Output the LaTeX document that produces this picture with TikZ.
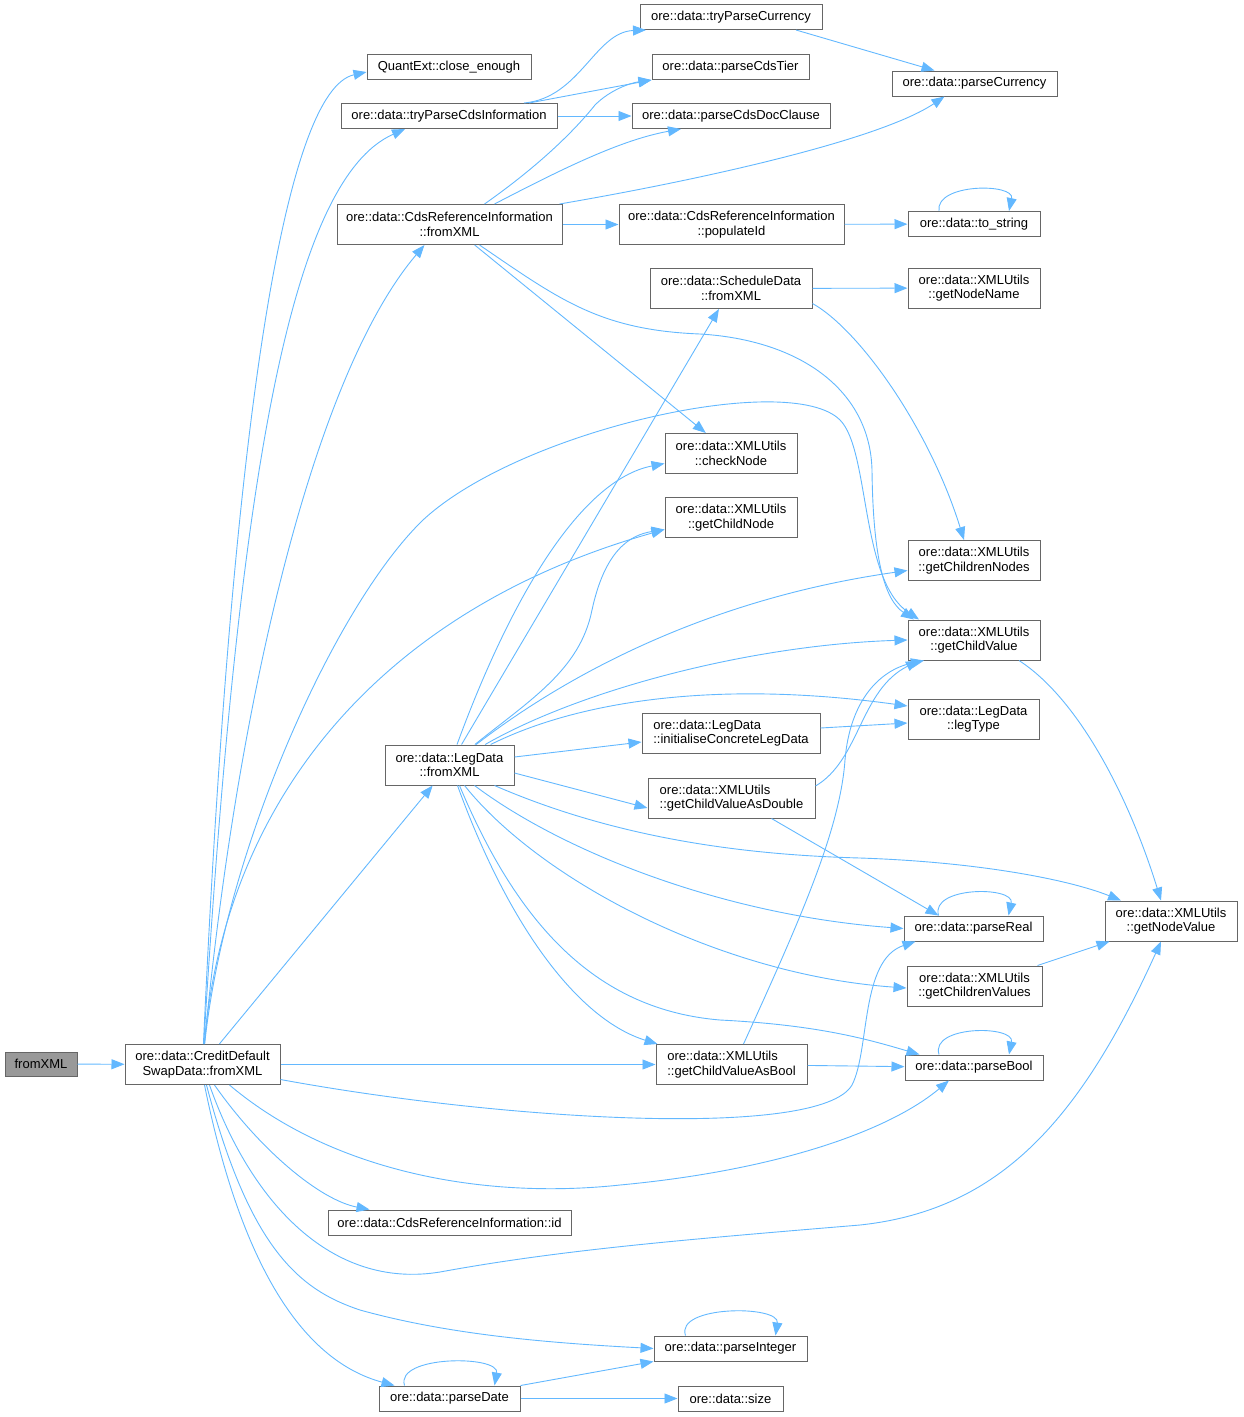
\documentclass[tikz,border=0pt]{standalone}
\usepackage{fontspec}
\setmainfont{Liberation Sans}
\usetikzlibrary{shapes,arrows,arrows.meta,positioning,calc}
\definecolor{edgeblue}{HTML}{63B8FF}
\definecolor{boxgray}{HTML}{666666}
\definecolor{rootgray}{HTML}{999999}
\newcommand{\fnfont}{\fontsize{13}{14.5}\selectfont}
\tikzstyle{fn} = [draw=boxgray, rectangle, line width=1pt, inner sep=0pt, minimum height=25pt, font=\fnfont, align=center]
\tikzstyle{fntwo} = [fn, minimum height=40pt]
\tikzstyle{call} = [draw=edgeblue, line width=0.9pt, -{Triangle[length=13pt,width=10pt]}]

\begin{document}
\begin{tikzpicture}[x=1pt, y=-1pt]
      \useasboundingbox (0,0) rectangle (1243,1417);
      \node[fn, fill=rootgray, minimum width=72pt, minimum height=24pt] (root) at (41,1064) {fromXML};
      \node[fntwo, minimum width=155pt] (cds) at (202.5,1064.5) {ore::data::CreditDefault\\SwapData::fromXML};
      \node[fn, minimum width=164pt] (close) at (449,67) {QuantExt::close\_enough};
      \node[fn, minimum width=216pt] (tpci) at (449,116) {ore::data::tryParseCdsInformation};
      \node[fntwo, minimum width=225pt] (cdsref) at (449.5,224.5) {ore::data::CdsReferenceInformation\\::fromXML};
      \node[fntwo, minimum width=129pt] (leg) at (449.5,765) {ore::data::LegData\\::fromXML};
      \node[fn, minimum width=243pt] (cdsid) at (449.5,1222.5) {ore::data::CdsReferenceInformation::id};
      \node[fn, minimum width=141pt] (pdate) at (449.5,1398.5) {ore::data::parseDate};
      \node[fn, minimum width=182pt] (tpcur) at (731,17) {ore::data::tryParseCurrency};
      \node[fn, minimum width=157pt] (tier) at (730.5,67) {ore::data::parseCdsTier};
      \node[fn, minimum width=198pt] (doc) at (731,116) {ore::data::parseCdsDocClause};
      \node[fntwo, minimum width=225pt] (popid) at (731.5,224.5) {ore::data::CdsReferenceInformation\\::populateId};
      \node[fntwo, minimum width=162pt] (sched) at (731,288.5) {ore::data::ScheduleData\\::fromXML};
      \node[fntwo, minimum width=132pt] (check) at (731,453.5) {ore::data::XMLUtils\\::checkNode};
      \node[fntwo, minimum width=132pt] (gcn) at (731,517.5) {ore::data::XMLUtils\\::getChildNode};
      \node[fntwo, minimum width=178pt, align=left] (icld) at (731,733) {ore::data::LegData\\::initialiseConcreteLegData};
      \node[fntwo, minimum width=167pt, align=left] (gcvd) at (731.5,798) {ore::data::XMLUtils\\::getChildValueAsDouble};
      \node[fntwo, minimum width=151pt, align=left] (gcvb) at (731.5,1064.5) {ore::data::XMLUtils\\::getChildValueAsBool};
      \node[fn, minimum width=153pt] (pint) at (730.5,1348.5) {ore::data::parseInteger};
      \node[fn, minimum width=105pt] (size) at (730.5,1398.5) {ore::data::size};
      \node[fn, minimum width=165pt] (pcur) at (974.5,83.5) {ore::data::parseCurrency};
      \node[fn, minimum width=132pt] (tostr) at (974,224) {ore::data::to\_string};
      \node[fntwo, minimum width=132pt] (gnn) at (974,288) {ore::data::XMLUtils\\::getNodeName};
      \node[fntwo, minimum width=132pt] (gcns) at (974,560.5) {ore::data::XMLUtils\\::getChildrenNodes};
      \node[fntwo, minimum width=132pt] (gcv) at (974,640) {ore::data::XMLUtils\\::getChildValue};
      \node[fntwo, minimum width=131pt] (legtype) at (973.5,719) {ore::data::LegData\\::legType};
      \node[fn, minimum width=139pt] (preal) at (973.5,928.5) {ore::data::parseReal};
      \node[fntwo, minimum width=135pt] (gcvs) at (974.5,986) {ore::data::XMLUtils\\::getChildrenValues};
      \node[fn, minimum width=138pt] (pbool) at (974,1067.5) {ore::data::parseBool};
      \node[fntwo, minimum width=132pt] (gnv) at (1171,921) {ore::data::XMLUtils\\::getNodeValue};

      % CreditDefaultSwapData::fromXML
      \draw[call] (root) -- (cds);
      \draw[call] (cds) .. controls (232,420) and (285,90) .. ([yshift=-5pt]close.west);
      \draw[call] (cds) .. controls (238,480) and (290,180) .. ([xshift=-44pt]tpci.south);
      \draw[call] (cds) .. controls (235,720) and (310,380) .. ([xshift=-25pt]cdsref.south);
      \draw[call] (cds) .. controls (225,850) and (335,605) .. (423,520) .. controls (520,430) and (790,370) .. (840,420) .. controls (870,450) and (860,580) .. ([xshift=-55pt]gcv.north);
      \draw[call] (cds) .. controls (225,800) and (380,610) .. ([yshift=-12pt]gcn.west);
      \draw[call] (cds) -- (leg);
      \draw[call] (cds.east) -- (gcvb.west);
      \draw[call] ([yshift=-15pt]cds.east) .. controls (500,1120) and (820,1140) .. (852,1085) .. controls (870,1050) and (860,960) .. ([xshift=12pt]preal.south west);
      \draw[call] ([xshift=27pt]cds.south) .. controls (330,1170) and (480,1200) .. (620,1185) .. controls (780,1170) and (890,1130) .. ([xshift=-25pt]pbool.south);
      \draw[call] ([xshift=12pt]cds.south) .. controls (260,1150) and (320,1200) .. ([xshift=-80pt]cdsid.north);
      \draw[call] ([xshift=7pt]cds.south) .. controls (250,1200) and (330,1290) .. (440,1272) .. controls (560,1250) and (680,1240) .. (860,1225) .. controls (1000,1210) and (1080,1120) .. ([xshift=-10pt]gnv.south);
      \draw[call] ([xshift=4pt]cds.south) .. controls (250,1250) and (300,1290) .. (360,1310) .. controls (450,1335) and (550,1343) .. (pint.west);
      \draw[call] ([xshift=2pt]cds.south) .. controls (240,1260) and (300,1360) .. ([xshift=-55pt]pdate.north);

      % tryParseCdsInformation and CdsReferenceInformation::fromXML
      \draw[call] ([xshift=75pt]tpci.north) .. controls (580,98) and (595,32) .. ([xshift=-85pt]tpcur.south);
      \draw[call] ([xshift=80pt]tpci.north) -- (tier.south west);
      \draw[call] (tpci) -- (doc);
      \draw[call] ([xshift=65pt]tpcur.south) -- ([xshift=-40pt]pcur.north);
      \draw[call] ([xshift=35pt]cdsref.north) .. controls (540,165) and (575,130) .. (595,105) .. controls (610,90) and (630,83) .. (tier.south west);
      \draw[call] ([xshift=45pt]cdsref.north) .. controls (560,170) and (620,140) .. ([xshift=-50pt]doc.south);
      \draw[call] ([xshift=110pt]cdsref.north) .. controls (700,180) and (880,140) .. ([xshift=-30pt]pcur.south);
      \draw[call] (cdsref) -- (popid);
      \draw[call] (cdsref) -- (check);
      \draw[call] ([xshift=30pt]cdsref.south) .. controls (560,300) and (600,330) .. (700,334) .. controls (800,340) and (870,390) .. (872,470) .. controls (873,560) and (885,600) .. ([xshift=-60pt]gcv.north);
      \draw[call] (popid) -- (tostr);
      \draw[call] ([xshift=-35pt]tostr.north) .. controls (935,183) and (1015,183) .. ([xshift=35pt]tostr.north);
      \draw[call] (sched) -- (gnn);
      \draw[call] ([yshift=-15pt]sched.east) .. controls (860,330) and (930,430) .. ([xshift=-10pt]gcns.north);

      % LegData::fromXML
      \draw[call] (leg) -- (sched);
      \draw[call] (leg) .. controls (510,600) and (580,480) .. ([yshift=-10pt]check.west);
      \draw[call] (leg) .. controls (530,700) and (580,670) .. (592,610) .. controls (605,550) and (630,535) .. ([yshift=-12pt]gcn.west);
      \draw[call] (leg) .. controls (560,680) and (700,600) .. ([yshift=-10pt]gcns.west);
      \draw[call] (leg) .. controls (580,690) and (750,645) .. (gcv.west);
      \draw[call] (leg) .. controls (580,700) and (720,680) .. ([yshift=13pt]legtype.west);
      \draw[call] ([yshift=8pt]leg.east) -- ([yshift=-9pt]icld.west);
      \draw[call] ([yshift=-8pt]leg.east) -- ([yshift=-10pt]gcvd.west);
      \draw[call] ([xshift=45pt]leg.south) .. controls (620,840) and (750,855) .. (860,858) .. controls (980,862) and (1070,880) .. ([xshift=-50pt]gnv.north);
      \draw[call] ([xshift=25pt]leg.south) .. controls (560,850) and (720,915) .. (preal.west);
      \draw[call] ([xshift=15pt]leg.south) .. controls (540,880) and (720,975) .. ([yshift=-2pt]gcvs.west);
      \draw[call] ([xshift=10pt]leg.south) .. controls (520,930) and (600,1010) .. (720,1020) .. controls (820,1025) and (870,1040) .. ([xshift=15pt]pbool.north west);
      \draw[call] ([xshift=8pt]leg.south) .. controls (510,930) and (580,1020) .. ([xshift=2pt]gcvb.north west);

      % XMLUtils and parsers
      \draw[call] ([yshift=5pt]icld.east) -- ([yshift=-4pt]legtype.west);
      \draw[call] ([yshift=12pt]gcvd.east) .. controls (860,760) and (860,690) .. ([xshift=-55pt]gcv.south);
      \draw[call] ([xshift=40pt]gcvd.south) -- ([xshift=-35pt]preal.north);
      \draw[call] ([xshift=12pt]gcvb.north) .. controls (800,920) and (840,830) .. (845,760) .. controls (850,700) and (880,670) .. ([xshift=-50pt]gcv.south);
      \draw[call] (gcvb) -- (pbool);
      \draw[call] ([xshift=45pt]gcv.south) .. controls (1080,700) and (1130,800) .. ([xshift=-10pt]gnv.north);
      \draw[call] ([xshift=-5pt]gcvs.north east) -- ([xshift=5pt]gnv.south west);
      \draw[call] ([xshift=-35pt]preal.north) .. controls (930,886) and (1015,886) .. ([xshift=35pt]preal.north);
      \draw[call] ([xshift=-35pt]pbool.north) .. controls (930,1025) and (1015,1025) .. ([xshift=35pt]pbool.north);
      \draw[call] (pdate.north east) -- (pint.south west);
      \draw[call] (pdate) -- (size);
      \draw[call] ([xshift=-45pt]pdate.north) .. controls (395,1355) and (500,1355) .. ([xshift=45pt]pdate.north);
      \draw[call] ([xshift=-45pt]pint.north) .. controls (675,1305) and (780,1305) .. ([xshift=45pt]pint.north);
    \end{tikzpicture}
\end{document}
